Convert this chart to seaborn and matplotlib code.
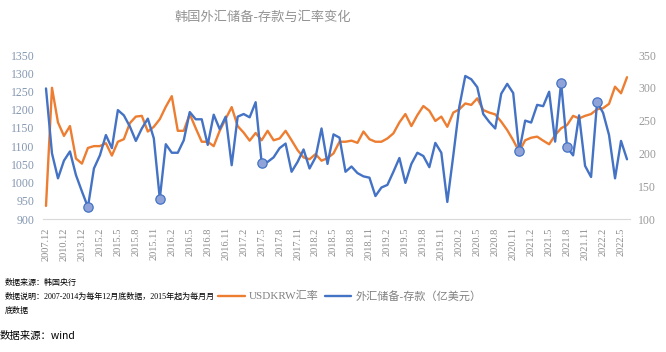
# Korea FX reserve deposits vs USDKRW chart

import numpy as np
import pandas as pd
import matplotlib
matplotlib.use('Agg')
import matplotlib.pyplot as plt
import seaborn as sns

# Category axis: year-end 2007-2014, then monthly from 2015.1 to 2022.6
periods = [f'{y}.12' for y in range(2007, 2015)] + \
    [f'{y}.{m}' for y in range(2015, 2023) for m in range(1, 13)][:90]

# USDKRW exchange rate (left axis)
usdkrw = [936, 1260, 1165, 1128, 1155, 1066, 1052, 1095,
          1100, 1100, 1108, 1074, 1112, 1119, 1163, 1181, 1183, 1140, 1153, 1174,
          1208, 1237, 1142, 1142, 1188, 1149, 1112, 1112, 1100, 1142, 1175, 1207,
          1155, 1137, 1115, 1136, 1116, 1142, 1116, 1121, 1142, 1116, 1089, 1069,
          1064, 1078, 1060, 1067, 1080, 1112, 1112, 1115, 1109, 1140, 1119, 1112,
          1112, 1121, 1135, 1165, 1188, 1155, 1185, 1210, 1197, 1169, 1181, 1153,
          1192, 1201, 1217, 1213, 1231, 1199, 1192, 1187, 1167, 1144, 1116, 1085,
          1116, 1123, 1126, 1115, 1105, 1130, 1149, 1158, 1183, 1176, 1183, 1188,
          1201, 1204, 1216, 1263, 1245, 1289]

# FX reserves - deposits, 100m USD (right axis)
deposit = [299, 200, 162, 189, 203, 167, 142, 118,
           177, 197, 228, 208, 266, 258, 241, 219, 238, 253, 223, 131,
           214, 201, 201, 220, 263, 252, 252, 213, 259, 237, 256, 182,
           256, 260, 255, 278, 186, 187, 194, 208, 215, 172, 187, 206,
           177, 194, 238, 184, 229, 224, 172, 180, 170, 165, 163, 135,
           148, 152, 172, 193, 155, 184, 201, 196, 179, 216, 201, 126,
           197, 271, 318, 313, 301, 260, 248, 238, 291, 306, 292, 203,
           250, 247, 274, 272, 294, 218, 308, 209, 197, 258, 181, 164,
           278, 262, 228, 162, 219, 191]

# Highlighted points on the deposit line
marker_periods = ['2014.12', '2015.12', '2017.5', '2020.12', '2021.7', '2021.8', '2022.1']

left_ticks = list(range(900, 1351, 50))
right_ticks = list(range(100, 351, 50))

chart_df = pd.DataFrame({'period': periods, 'usdkrw': usdkrw, 'deposit': deposit})
chart_df['pos'] = np.arange(len(chart_df))
marker_df = chart_df[chart_df['period'].isin(marker_periods)]

sns.set_theme(style = 'white')
plt.rcParams['font.family'] = ['Liberation Serif', 'Noto Sans CJK SC', 'DejaVu Sans']

fig = plt.figure(figsize = (6.66, 3.52), dpi = 100)
ax = fig.add_axes([43 / 666, 1 - 219 / 352, (630 - 43) / 666, 164 / 352])
ax2 = ax.twinx()

sns.lineplot(ax = ax, data = chart_df, x = 'pos', y = 'usdkrw',
             color = '#ed7d31', linewidth = 1.7)
sns.lineplot(ax = ax2, data = chart_df, x = 'pos', y = 'deposit',
             color = '#4472c4', linewidth = 1.7)
sns.scatterplot(ax = ax2, data = marker_df, x = 'pos', y = 'deposit',
                s = 45, color = '#8fa3d8', edgecolor = '#4472c4',
                linewidth = 0.9, zorder = 5)

ax.set_xlim(-0.5, len(periods) - 0.5)
ax.set_ylim(900, 1350)
ax2.set_ylim(100, 350)

ax.set_xticks(chart_df['pos'][::3])
ax.set_xticklabels(chart_df['period'][::3], rotation = 90)
ax.set_yticks(left_ticks)
ax2.set_yticks(right_ticks)

ax.tick_params(axis = 'x', length = 0, pad = 6, labelsize = 7.5, labelcolor = '#8c8c8c')
ax.tick_params(axis = 'y', length = 0, pad = 6, labelsize = 8.5, labelcolor = '#8497b0')
ax2.tick_params(axis = 'y', length = 0, pad = 6, labelsize = 8.5, labelcolor = '#9a9a9a')

ax.set(xlabel = '', ylabel = '')
ax2.set(ylabel = '')
ax.grid(False)
ax2.grid(False)

for side in ['top', 'left', 'right']:
    ax.spines[side].set_visible(False)
    ax2.spines[side].set_visible(False)
ax2.spines['bottom'].set_visible(False)
ax.spines['bottom'].set_color('#d9d9d9')
ax.spines['bottom'].set_linewidth(0.8)

# Title
fig.text(263 / 666, 1 - 18 / 352, '韩国外汇储备-存款与汇率变化',
         ha = 'center', va = 'center', fontsize = 9.5, color = '#939393')

# Legend
fig.legend([ax.lines[0], ax2.lines[0]], ['USDKRW汇率', '外汇储备-存款（亿美元）'],
           loc = 'center', bbox_to_anchor = (350 / 666, 1 - 296 / 352),
           ncol = 2, frameon = False, fontsize = 8, handlelength = 2.4,
           handletextpad = 0.4, columnspacing = 0.5, labelcolor = '#808080')

# Notes
fig.text(5 / 666, 1 - 283 / 352, '数据来源：韩国央行', fontsize = 5.8, va = 'center', color = 'black')
fig.text(5 / 666, 1 - 297 / 352, '数据说明：2007-2014为每年12月底数据，2015年起为每月月',
         fontsize = 5.8, va = 'center', color = 'black')
fig.text(5 / 666, 1 - 311 / 352, '底数据', fontsize = 5.8, va = 'center', color = 'black')
fig.text(0, 1 - 336 / 352, '数据来源：wind', fontsize = 7.5, va = 'center', color = 'black',
         family = ['Noto Sans CJK SC', 'DejaVu Sans'])

fig.savefig('out.png', dpi = 100)
plt.close()
